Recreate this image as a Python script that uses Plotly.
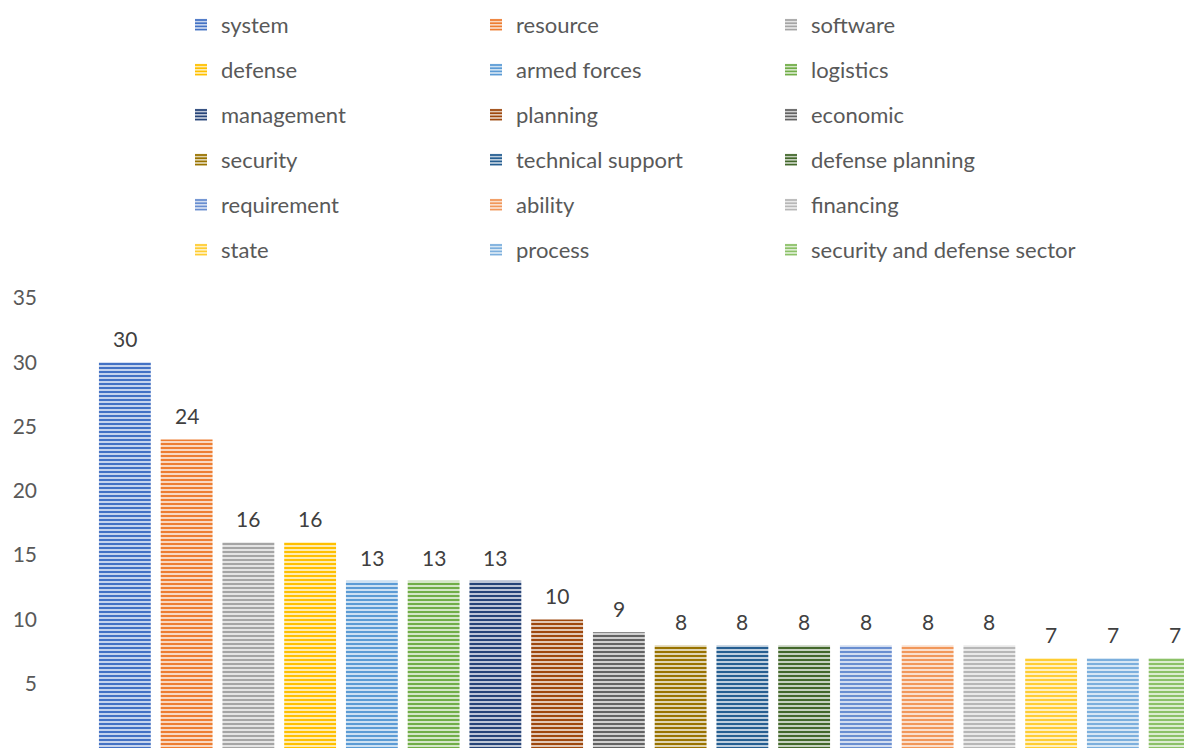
import plotly.graph_objects as go

categories = ["system", "resource", "software", "defense", "armed forces", "logistics",
              "management", "planning", "economic", "security", "technical support",
              "defense planning", "requirement", "ability", "financing", "state",
              "process", "security and defense sector"]
values = [30, 24, 16, 16, 13, 13, 13, 10, 9, 8, 8, 8, 8, 8, 8, 7, 7, 7]
colors = ["#4472C4", "#ED7D31", "#A5A5A5", "#FFC000", "#5B9BD5", "#70AD47",
          "#264478", "#9E480E", "#636363", "#997300", "#255E91", "#43682B",
          "#698ED0", "#F1975A", "#B7B7B7", "#FFCD33", "#7CAFDD", "#8CC168"]
y_ticks = [0, 5, 10, 15, 20, 25, 30, 35]


def tint(hex_color, f=0.6):
    h = hex_color.lstrip("#")
    r, g, b = (int(h[i:i + 2], 16) for i in (0, 2, 4))
    r, g, b = (int(c + (255 - c) * f) for c in (r, g, b))
    return f"rgb({r},{g},{b})"


# page body has an 8px margin, so the figure is sized to the visible area
W, H = 1184, 748
ML, MR, MT, MB = 86, 0, 290, 8
plot_w = W - ML - MR
plot_h = H - MT - MB

FONT = "Lato"
fig = go.Figure()

row_y_px = [17, 62, 107, 152, 197, 242]
col_x_px = [173, 468, 763]
layout_legends = {}

for i, (cat, val, col) in enumerate(zip(categories, values, colors)):
    ln = "legend" if i == 0 else f"legend{i + 1}"
    fig.add_trace(go.Bar(
        x=[cat], y=[val], name=cat,
        marker=dict(color=tint(col, 0.7),
                    line=dict(width=0),
                    pattern=dict(shape="-", fgcolor=col, bgcolor=tint(col, 0.7),
                                 fgopacity=1, size=4, solidity=0.5,
                                 fillmode="replace")),
        legend=ln,
        showlegend=True,
    ))
    fig.add_annotation(x=cat, y=val, text=str(val), showarrow=False,
                       yanchor="bottom", yshift=9,
                       font=dict(family=FONT, size=21, color="#404040"))
    layout_legends[ln] = dict(
        orientation="h",
        xref="container", yref="container",
        x=col_x_px[i % 3] / W,
        xanchor="left",
        y=1 - row_y_px[i // 3] / H,
        yanchor="middle",
        font=dict(family=FONT, size=22, color="#595959"),
        bgcolor="rgba(0,0,0,0)",
    )

fig.update_layout(
    width=W, height=H,
    margin=dict(l=ML, r=MR, t=MT, b=MB, pad=0),
    paper_bgcolor="white", plot_bgcolor="white",
    barmode="overlay", bargap=0.16,
    font=dict(family=FONT, size=21, color="#595959"),
    xaxis=dict(type="category", categoryorder="array", categoryarray=categories,
               range=[-0.5, -0.5 + plot_w / 61.75], showticklabels=False,
               showgrid=False, zeroline=False, showline=False, ticks=""),
    yaxis=dict(range=[0, 35], tickvals=y_ticks, showgrid=False, zeroline=False,
               showline=False, ticks="", ticklabelstandoff=56,
               tickfont=dict(family=FONT, size=21, color="#595959")),
    **layout_legends,
)

fig.write_html("out.html")
